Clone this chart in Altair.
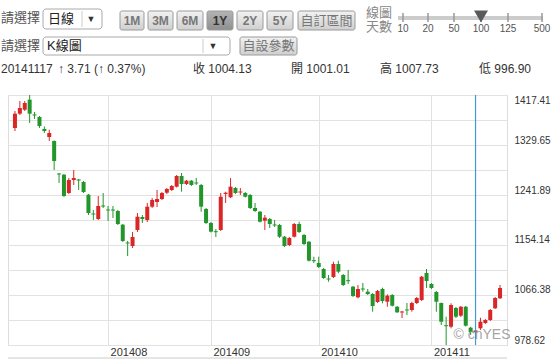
import altair as alt
import pandas as pd

# ---------------- data ----------------
open_ = [1359.5, 1384.6, 1391.6, 1409.2, 1383.2, 1378.8, 1357.7, 1343.7, 1336.7, 1279.6,
         1277.5, 1245.4, 1268.2, 1269.1, 1264.7, 1242.4, 1209.4, 1199.8, 1223.5, 1216.4,
         1216.4, 1213.8, 1189.8, 1158.5, 1152.4, 1180.5, 1203.3, 1198.0, 1221.4, 1229.6,
         1234.9, 1245.9, 1250.7, 1256.5, 1275.2, 1261.2, 1267.0, 1263.8, 1259.5, 1217.3,
         1192.8, 1178.4, 1180.5, 1243.7, 1237.9, 1254.2, 1246.3, 1245.4, 1241.9, 1219.1,
         1212.6, 1196.8, 1199.8, 1190.1, 1189.2, 1168.7, 1154.1, 1168.7, 1191.0, 1171.7,
         1159.9, 1127.5, 1122.5, 1112.0, 1095.3, 1098.0, 1120.8, 1101.5, 1092.4, 1081.0,
         1062.3, 1077.8, 1072.2, 1068.1, 1054.1, 1076.9, 1054.6, 1066.4, 1045.8, 1035.7,
         1040.9, 1040.0, 1052.3, 1057.6, 1105.0, 1085.7, 1071.6, 1052.3, 1013.4, 1010.7,
         1043.6, 1030.1, 1045.8, 1009.0, 1001.01, 1007.9, 1017.2, 1022.5, 1043.0, 1060.6]
high = [1389.3, 1406.9, 1406.9, 1417.41, 1387.6, 1380.6, 1362.1, 1356.5, 1337.6, 1280.5,
        1278.8, 1271.7, 1285.8, 1270.0, 1266.5, 1243.7, 1215.6, 1240.1, 1245.4, 1222.6,
        1222.6, 1215.6, 1191.0, 1161.2, 1177.0, 1210.3, 1206.8, 1227.9, 1236.6, 1250.7,
        1247.2, 1254.2, 1259.5, 1277.0, 1280.5, 1268.2, 1268.2, 1271.7, 1261.2, 1219.1,
        1194.5, 1182.2, 1245.4, 1247.7, 1271.7, 1255.9, 1254.2, 1247.2, 1243.7, 1227.9,
        1213.8, 1206.8, 1201.5, 1198.0, 1191.0, 1169.9, 1168.2, 1192.8, 1195.0, 1173.4,
        1161.2, 1133.6, 1133.6, 1113.8, 1101.5, 1124.8, 1126.6, 1103.2, 1110.3, 1082.2,
        1083.9, 1087.4, 1076.9, 1069.9, 1075.2, 1079.2, 1067.6, 1068.1, 1047.1, 1038.3,
        1052.3, 1054.6, 1062.9, 1099.7, 1112.0, 1087.4, 1073.4, 1053.0, 1028.3, 1051.8,
        1045.3, 1047.1, 1047.1, 1010.7, 1007.73, 1026.5, 1024.3, 1041.8, 1062.9, 1083.9]
low = [1354.2, 1382.3, 1389.3, 1368.3, 1375.3, 1359.5, 1350.7, 1336.7, 1285.8, 1263.0,
       1238.4, 1243.7, 1259.5, 1250.7, 1245.4, 1206.8, 1198.0, 1198.0, 1219.1, 1196.3,
       1201.5, 1189.2, 1159.4, 1134.8, 1148.9, 1177.0, 1192.8, 1194.5, 1219.1, 1220.8,
       1233.1, 1243.7, 1248.9, 1255.1, 1247.7, 1259.5, 1257.7, 1259.5, 1212.6, 1191.0,
       1176.1, 1168.2, 1178.7, 1227.9, 1236.6, 1243.7, 1241.9, 1237.5, 1217.3, 1212.1,
       1193.6, 1180.5, 1184.0, 1185.7, 1166.4, 1150.6, 1152.4, 1167.3, 1175.2, 1154.1,
       1125.2, 1122.5, 1113.8, 1094.5, 1089.7, 1096.2, 1104.5, 1082.2, 1085.7, 1062.9,
       1060.6, 1072.2, 1066.4, 1037.1, 1052.3, 1051.8, 1045.8, 1046.2, 1034.8, 1026.0,
       1031.3, 1037.1, 1050.6, 1055.8, 1078.7, 1076.9, 1037.1, 1013.7, 978.62, 1007.9,
       1026.0, 1027.8, 1011.1, 996.2, 996.90, 1005.0, 1015.5, 1020.7, 1041.8, 1059.4]
close = [1384.6, 1394.6, 1403.4, 1384.6, 1381.4, 1363.0, 1354.2, 1350.7, 1301.6, 1277.9,
         1240.1, 1268.2, 1271.7, 1267.3, 1247.2, 1210.3, 1207.7, 1222.6, 1221.7, 1214.7,
         1214.7, 1191.0, 1161.2, 1156.8, 1168.2, 1203.8, 1199.8, 1221.4, 1233.1, 1234.9,
         1245.4, 1252.4, 1257.7, 1275.2, 1261.2, 1267.0, 1259.5, 1262.1, 1221.4, 1192.8,
         1177.5, 1176.6, 1238.9, 1245.9, 1256.5, 1245.4, 1248.0, 1238.9, 1219.1, 1213.8,
         1195.0, 1202.1, 1191.0, 1188.4, 1168.7, 1152.4, 1166.4, 1191.0, 1177.0, 1155.9,
         1126.6, 1125.7, 1115.5, 1096.2, 1093.6, 1120.8, 1107.3, 1083.9, 1090.6, 1064.6,
         1076.9, 1076.0, 1068.1, 1047.1, 1073.4, 1055.8, 1065.2, 1047.6, 1036.0, 1037.4,
         1039.2, 1052.3, 1061.1, 1098.5, 1091.0, 1078.7, 1054.6, 1019.5, 1011.6, 1048.8,
         1028.3, 1045.8, 1012.5, 1001.4, 1004.13, 1019.5, 1022.5, 1040.0, 1061.1, 1078.7]

grid_values = [978.62, 1022.50, 1066.38, 1110.26, 1154.14, 1198.02,
               1241.89, 1285.77, 1329.65, 1373.53, 1417.41]
month_start_idx = [19, 40, 62, 85]
month_labels = ["201408", "201409", "201410", "201411"]
selected_idx = 94

info_date = "20141117"
info_change = "↑ 3.71 (↑ 0.37%)"
info_close = "收 1004.13"
info_open = "開 1001.01"
info_high = "高 1007.73"
info_low = "低 996.90"
range_buttons = ["1M", "3M", "6M", "1Y", "2Y", "5Y", "自訂區間"]
active_button = "1Y"
slider_labels = ["10", "20", "50", "100", "125", "500"]
slider_active = "100"

# ---------------- layout constants ----------------
OX, OY = 8, 95          # plot origin inside the 554x359 page
PW, PH = 499, 250
FONT = "Liberation Sans, Noto Sans CJK TC, sans-serif"
RED, GREEN = "#d92626", "#22962a"

df = pd.DataFrame({"i": list(range(len(open_))), "open": open_, "high": high,
                   "low": low, "close": close})
df["dir"] = ["up" if c >= o else "down" for o, c in zip(df["open"], df["close"])]

xscale = alt.Scale(domain=[-0.4, len(open_) - 0.6], nice=False, zero=False)
yscale = alt.Scale(domain=[grid_values[0], grid_values[-1]], nice=False, zero=False)
cscale = alt.Scale(domain=["up", "down"], range=[RED, GREEN])

label_expr_x = " : ".join(
    f"datum.value == {v} ? '{t}'" for v, t in zip(month_start_idx, month_labels)) + " : ''"
x_axis = alt.Axis(values=month_start_idx, labelExpr=label_expr_x, grid=True,
                  gridColor="#e2e2e2", domain=False, ticks=False, title=None,
                  labelAlign="left", labelOffset=2, labelPadding=1, labelFlush=False,
                  labelFontSize=11, labelColor="#333", labelFont=FONT, labelOverlap=False)
y_axis = alt.Axis(values=grid_values, orient="right", grid=True, gridColor="#e2e2e2",
                  domain=False, ticks=False, title=None, labelPadding=7,
                  labelExpr="round(datum.index*10) % 2 == 0 ? format(datum.value, '.2f') : ''",
                  labelBaseline={"condition": {"test": "datum.value > 1400", "value": "top"},
                                 "value": "bottom"},
                  labelFlush=False, labelFontSize=10, labelColor="#333", labelFont=FONT,
                  labelOverlap=False)

base = alt.Chart(df)
wicks = base.mark_rule(strokeWidth=1).encode(
    x=alt.X("i:Q", scale=xscale, axis=x_axis),
    y=alt.Y("low:Q", scale=yscale, axis=y_axis),
    y2="high:Q",
    color=alt.Color("dir:N", scale=cscale, legend=None),
)
bodies = base.mark_bar(size=4).encode(
    x=alt.X("i:Q", scale=xscale, axis=x_axis),
    y=alt.Y("open:Q", scale=yscale, axis=y_axis),
    y2="close:Q",
    color=alt.Color("dir:N", scale=cscale, legend=None),
)
cross = alt.Chart(pd.DataFrame({"i": [selected_idx]})).mark_rule(
    stroke="#3f9bd4", strokeWidth=1.2, opacity=1).encode(
    x=alt.X("i:Q", scale=xscale, axis=x_axis),
    y=alt.value(0), y2=alt.value(PH))

ONE = alt.Data(values=[{"k": 0}])


def txt(s, x, y, size=12, color="#444", align="left", weight="normal", opacity=1.0):
    return alt.Chart(ONE).mark_text(text=s, align=align, baseline="middle", fontSize=size,
                                    color=color, fontWeight=weight, font=FONT,
                                    opacity=opacity).encode(
        x=alt.value(x - OX), y=alt.value(y - OY))


def box(x1, y1, x2, y2, fill="#ffffff", stroke="#aaaaaa", radius=3):
    return alt.Chart(ONE).mark_rect(fill=fill, stroke=stroke, strokeWidth=1,
                                    cornerRadius=radius).encode(
        x=alt.value(x1 - OX), x2=alt.value(x2 - OX), y=alt.value(y1 - OY), y2=alt.value(y2 - OY))


def line(x1, y1, x2, y2, color="#cccccc", width=1):
    return alt.Chart(ONE).mark_rule(stroke=color, strokeWidth=width).encode(
        x=alt.value(x1 - OX), x2=alt.value(x2 - OX), y=alt.value(y1 - OY), y2=alt.value(y2 - OY))


def grad(top, bottom):
    return alt.Gradient(gradient="linear", x1=0, x2=0, y1=0, y2=1,
                        stops=[alt.GradientStop(color=top, offset=0),
                               alt.GradientStop(color=bottom, offset=1)])


header = []
# row 1
header.append(txt("請選擇", 1, 18, size=13, color="#555"))
header.append(box(43, 9, 102, 29))
header.append(line(82, 11, 82, 27))
header.append(txt("日線", 48, 19, size=13, color="#222"))
header.append(txt("▼", 91, 19, size=9, color="#333", align="center"))
btn_x = [(120, 144), (148, 173), (177, 203), (207, 233), (237, 263), (267, 293), (298, 355)]
for lab, (x1, x2) in zip(range_buttons, btn_x):
    active = lab == active_button
    header.append(box(x1, 11, x2, 30,
                      fill=grad("#b4b4b4", "#8f8f8f") if active else grad("#f2f2f2", "#cfcfcf"),
                      stroke="#9a9a9a", radius=2))
    header.append(txt(lab, (x1 + x2) / 2, 20.5, size=13 if len(lab) > 2 else 12, align="center",
                      color="#333" if active else "#777", weight="bold" if len(lab) < 3 else "normal"))
header.append(txt("線圖", 366, 13, size=13, color="#888"))
header.append(txt("天數", 366, 27, size=13, color="#888"))
header.append(line(398, 18, 543, 18, color="#cccccc", width=4))
slider_x = [403, 428, 454, 481, 508, 542]
for lab, sx in zip(slider_labels, slider_x):
    header.append(line(sx, 13, sx, 22, color="#999999", width=1.5))
    header.append(txt(lab, sx, 29, size=10, align="center", color="#555"))
    if lab == slider_active:
        header.append(alt.Chart(ONE).mark_point(shape="triangle-down", filled=True, size=110,
                                                fill="#5a5a5a", stroke="#5a5a5a", opacity=1).encode(
            x=alt.value(sx - OX), y=alt.value(16 - OY)))
# row 2
header.append(txt("請選擇", 1, 46, size=13, color="#555"))
header.append(box(43, 37, 230, 55))
header.append(line(203, 39, 203, 53))
header.append(txt("K線圖", 47, 46, size=13, color="#222"))
header.append(txt("▼", 213, 46, size=9, color="#333", align="center"))
header.append(box(240, 37, 297, 55, fill=grad("#f2f2f2", "#cfcfcf"), stroke="#9a9a9a", radius=2))
header.append(txt("自設參數", 268.5, 46, size=13, align="center", color="#777"))
# row 3
header.append(txt(info_date, 1, 69, size=12, color="#333"))
header.append(txt(info_change, 58, 69, size=12, color="#333"))
header.append(txt(info_close, 193, 69, size=12, color="#333"))
header.append(txt(info_open, 291, 69, size=12, color="#333"))
header.append(txt(info_high, 380, 69, size=12, color="#333"))
header.append(txt(info_low, 479, 69, size=12, color="#333"))

extras = [line(8, 358, 507, 358, color="#cccccc", width=1),
          txt("© cnYES", 482, 335, size=14, align="center", color="#888", opacity=0.75)]

chart = alt.layer(wicks, bodies, cross, *extras, *header).properties(
    width=PW, height=PH,
    autosize=alt.AutoSizeParams(type="none"),
    padding={"left": OX, "top": OY, "right": 554 - OX - PW, "bottom": 359 - OY - PH},
).configure_view(stroke="#c8c8c8", strokeWidth=2).configure(background="white")

chart.save("out.html", embed_options={"renderer": "svg", "actions": False})
